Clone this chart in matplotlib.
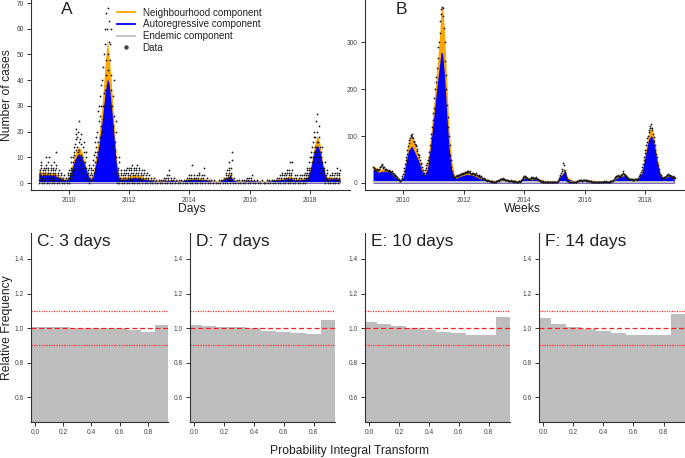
import numpy as np
import matplotlib
matplotlib.use("Agg")
import matplotlib.pyplot as plt
from matplotlib.lines import Line2D

plt.rcParams['font.family'] = ['Liberation Sans', 'DejaVu Sans']

# ---------------- Panel A : daily model fit ----------------
A_t = [2009.00, 2009.10, 2009.30, 2009.50, 2009.70, 2009.85, 2009.95,
       2010.05, 2010.15, 2010.25, 2010.33, 2010.42, 2010.50, 2010.60, 2010.70, 2010.80, 2010.90,
       2011.00, 2011.10, 2011.20, 2011.27, 2011.33, 2011.40, 2011.47, 2011.55, 2011.62, 2011.70, 2011.90,
       2012.10, 2012.30, 2012.50, 2012.70, 2012.90,
       2013.20, 2013.40, 2013.70,
       2014.00, 2014.10, 2014.30, 2014.50, 2014.70,
       2015.00, 2015.25, 2015.35, 2015.45, 2015.60,
       2016.00, 2016.50,
       2017.00, 2017.20, 2017.35, 2017.50, 2017.80, 2017.95,
       2018.05, 2018.15, 2018.25, 2018.33, 2018.42, 2018.52, 2018.62, 2018.80, 2019.00]
A_ar_top = [4.0, 3.0, 3.2, 3.0, 2.0, 1.2, 1.0,
            3.5, 7.5, 10.5, 11.5, 10.0, 8.0, 4.0, 1.2, 2.5, 8.0,
            15.0, 24.0, 35.0, 40.5, 39.0, 31.0, 22.0, 10.0, 3.0, 1.5, 1.5,
            2.0, 2.0, 1.5, 1.0, 0.7,
            0.8, 0.9, 0.7,
            1.2, 1.5, 1.3, 1.2, 0.7,
            0.6, 2.0, 3.0, 1.2, 0.6,
            0.9, 0.6,
            1.2, 1.6, 1.8, 1.2, 1.3, 2.5,
            7.0, 12.5, 14.7, 12.5, 7.0, 2.5, 1.5, 1.7, 1.6]
A_ne_top = [5.5, 4.2, 4.3, 4.0, 2.6, 1.6, 1.4,
            4.5, 9.5, 13.0, 14.0, 12.5, 9.5, 5.0, 1.8, 3.5, 11.0,
            19.0, 31.0, 46.0, 56.0, 50.0, 40.0, 28.0, 14.0, 4.5, 2.3, 2.5,
            3.0, 3.2, 2.2, 1.4, 1.0,
            1.1, 1.2, 0.9,
            1.6, 2.0, 1.7, 1.6, 0.9,
            0.8, 2.6, 3.8, 1.6, 0.8,
            1.1, 0.8,
            1.6, 2.2, 2.8, 1.7, 1.8, 3.2,
            8.5, 15.0, 18.5, 15.5, 8.5, 3.2, 2.2, 2.3, 2.2]
A_endemic = 0.4

# daily counts observed in each month (Jan 2009 ... Dec 2018)
A_obs = [
    [0,1,2,3,4,5,6,7,8], [0,1,2,3,4,5,6], [0,1,2,3,4,5,6,7,10], [0,1,2,3,4,5,6,8,10],
    [0,1,2,3,4,5,6,7], [0,1,2,3,4,5,6,8], [0,1,2,3,4,5,6,7,12], [0,1,2,3,4,5],
    [0,1,2,3,4], [0,1,2,3], [0,1,2], [0,1,2,3,4,5],
    # 2010
    [0,1,2,3,4,5,6,8,10], [2,3,4,5,6,8,10,12,14], [5,11,7,15,9,19,13,17,21], [6,14,8,18,10,20,12,24,16],
    [5,13,7,17,9,19,11,15], [4,10,6,14,8,16,12], [2,8,4,10,6,12], [1,2,3,4,5,6,7],
    [0,1,2,3,4,5,6], [1,3,5,7,9,11], [4,12,6,16,8,18,10,14], [8,20,12,28,16,30,24],
    # 2011
    [14,26,18,34,22,38,30], [20,40,25,45,30,50,35], [30,54,36,60,42,66,48], [38,60,44,68,50,63,55],
    [25,48,30,54,36,60,42], [14,30,18,34,22,40,26], [4,13,7,16,10,24,20], [0,1,2,3,4,5,6,8,10],
    [0,1,2,3,4,5], [0,1,2,3,4,5], [0,1,2,3,4,5,6], [0,1,2,3,4,5,6],
    # 2012
    [0,1,2,3,4,5,6,7], [0,1,2,3,4,5,6], [0,1,2,3,4,5,6,7], [0,1,2,3,4,5,6],
    [0,1,2,3,4,5], [0,1,2,3,4,5], [0,1,2,3,4], [0,1,2,3],
    [0,1,2], [0,1,2], [0,1], [0,1],
    # 2013
    [0,1], [0,1,2], [0,1,2,3], [0,1,2,3,5],
    [0,1,2], [0,1,2], [0,1], [0,1],
    [0,1], [0,1], [0,1,2], [0,1,2,3],
    # 2014
    [0,1,2,3,7], [0,1,2,3], [0,1,2,3], [0,1,2,3,4],
    [0,1,2,3], [0,1,2,3,6], [0,1,2], [0,1],
    [0,1], [0,1], [0], [0,1],
    # 2015
    [0,1], [0,1,2], [0,1,2,3,4,5], [0,1,2,3,4,5,6,8],
    [0,1,2,3,4,6,9,12], [0,1,2], [0,1], [0,1],
    [0,1], [0,1], [0,1,2], [0,1,2],
    # 2016
    [0,1,2,3], [0,1], [0,1], [0],
    [0,1], [0], [0,1], [0,1],
    [0,1], [0,1], [0,1,2], [0,1,2,3],
    # 2017
    [0,1,2,3,4], [0,1,2,3,4], [0,1,2,3,4,5], [0,1,2,3,4,5,8],
    [0,1,2,3,4,5,8], [0,1,2,3], [0,1,2,3], [0,1,2,3],
    [0,1,2,3], [0,1,2,3,4], [0,1,2,3,4,5,6], [1,2,3,4,5,6,8,10],
    # 2018
    [4,10,6,12,8,14], [8,16,10,18,12,20,14], [10,18,12,24,14,27,16,20], [8,16,10,18,12,22,14],
    [4,10,6,12,8,14], [1,2,3,4,5,6,8], [0,1,2,3,4,5], [0,1,2,3],
    [0,1,2,3,4], [0,1,2,3,4], [0,1,2,3,4,6], [0,1,2,3,4,5],
]

# ---------------- Panel B : weekly model fit ----------------
B_t = [2009.00, 2009.17, 2009.34, 2009.56, 2009.72, 2009.89, 2010.00,
       2010.06, 2010.17, 2010.28, 2010.35, 2010.50, 2010.61, 2010.70, 2010.80, 2010.90,
       2011.02, 2011.10, 2011.19, 2011.25, 2011.30, 2011.36, 2011.43, 2011.51, 2011.60, 2011.71, 2011.88,
       2012.10, 2012.32, 2012.54, 2012.76,
       2013.09, 2013.31, 2013.53, 2013.86,
       2014.05, 2014.25, 2014.41, 2014.64,
       2015.08, 2015.28, 2015.35, 2015.43, 2015.63,
       2016.02, 2016.40, 2016.95,
       2017.12, 2017.34, 2017.50, 2017.73, 2017.89,
       2018.00, 2018.11, 2018.20, 2018.28, 2018.39, 2018.50, 2018.61, 2018.77, 2018.89, 2018.96]
B_ar_top = [30, 23, 25.5, 23, 12.8, 5, 12,
            34, 69.5, 78.7, 69.5, 48, 27, 16, 30, 76.6,
            147.5, 197, 247, 279, 275, 232.6, 154.6, 76.6, 27, 9, 14,
            18.4, 16, 9, 5,
            4.5, 6.5, 5, 4.5,
            11.3, 6.5, 9, 4.5,
            4.3, 20, 27, 9, 4.3,
            6, 4.5, 4.5,
            12.8, 16, 7, 5.7, 20,
            55, 91, 101.4, 91, 48, 16, 9, 14, 12.8, 12]
B_ne_top = [37.6, 30, 30, 27, 16, 6.5, 15,
            41, 87, 101, 87, 59, 34, 20, 48, 98,
            176, 233, 303, 367, 376, 325, 225, 119, 48, 12.8, 18.4,
            23, 20, 12.8, 6.5,
            6, 9, 6.5, 6,
            14, 9, 11.3, 6,
            5.5, 23, 30.5, 12.8, 5.5,
            7.5, 5.5, 5.5,
            15, 21, 9, 7.8, 23,
            66, 105, 120.6, 105, 59, 20, 11.3, 16, 15, 14]
B_endemic = 4.0

# weekly counts, four per month (Jan 2009 ... Dec 2018)
B_obs = [
    [35,32,30,28], [25,28,30,27], [28,30,33,35], [36,40,38,33], [32,35,30,28], [30,27,28,26],
    [26,28,24,25], [24,22,25,21], [20,18,16,15], [14,12,10,9], [8,6,5,4], [6,10,15,20],
    # 2010
    [25,32,40,48], [55,62,70,78], [85,92,95,100], [102,98,104,95], [90,88,82,80], [78,72,68,62],
    [60,55,48,42], [40,34,28,22], [18,22,28,32], [38,42,48,50], [55,65,80,95], [105,120,135,150],
    # 2011
    [160,180,200,215], [225,245,265,290], [300,320,345,360], [370,375,372,355], [330,300,260,230], [200,165,140,120],
    [100,80,60,48], [35,25,18,14], [12,13,11,14], [15,16,14,17], [18,17,20,19], [20,22,19,21],
    # 2012
    [22,24,21,23], [25,22,24,26], [23,25,22,20], [21,19,22,20], [20,18,19,21], [17,16,15,18],
    [14,13,12,14], [11,10,9,10], [8,7,8,6], [6,5,6,4], [5,4,3,4], [3,4,3,2],
    # 2013
    [3,2,4,3], [4,5,6,5], [7,8,9,8], [9,8,10,9], [8,7,6,7], [6,5,6,5],
    [5,4,5,6], [4,5,3,4], [3,4,3,3], [3,2,3,4], [4,3,5,6], [8,10,12,14],
    # 2014
    [15,13,12,11], [10,9,8,9], [8,9,10,12], [11,12,10,9], [10,11,12,10], [9,8,7,6],
    [5,4,4,3], [3,4,2,3], [3,2,3,2], [2,3,2,2], [2,2,3,2], [2,3,2,3],
    # 2015
    [2,3,2,2], [3,4,6,10], [14,18,22,26], [30,42,38,28], [24,18,12,8], [5,4,3,3],
    [2,3,2,2], [2,2,3,2], [3,2,3,4], [4,5,4,6], [6,7,6,5], [5,6,7,6],
    # 2016
    [7,6,5,6], [5,4,5,4], [4,3,4,3], [3,2,3,3], [2,3,2,3], [3,2,2,3],
    [2,3,3,2], [3,2,3,4], [3,4,3,2], [2,3,3,4], [3,4,5,4], [5,6,8,10],
    # 2017
    [12,14,13,15], [14,16,15,13], [14,17,18,20], [22,25,20,18], [16,14,12,11], [10,9,8,9],
    [8,9,8,7], [7,8,7,8], [9,8,7,8], [9,11,14,18], [20,24,28,35], [40,48,56,64],
    # 2018
    [70,80,88,96], [100,108,112,118], [122,126,118,112], [105,98,90,80], [70,62,55,45], [38,30,24,20],
    [16,13,12,11], [10,11,12,13], [14,15,16,18], [20,17,15,16], [14,15,13,12], [14,13,12,11],
]

# ---------------- Panels C-F : PIT histograms ----------------
pit_titles = ["C: 3 days", "D: 7 days", "E: 10 days", "F: 14 days"]
pit_mid = [0.0, 0.1, 0.2, 0.3, 0.4, 0.5, 0.6, 0.7, 0.8, 0.9]
pit_C = [1.007, 1.007, 1.004, 1.003, 1.002, 1.001, 0.999, 0.989, 0.979, 1.019]
pit_D = [1.019, 1.015, 1.008, 1.006, 1.000, 0.985, 0.979, 0.971, 0.965, 1.044]
pit_E = [1.037, 1.023, 1.013, 1.000, 0.988, 0.979, 0.969, 0.962, 0.958, 1.065]
pit_F = [1.056, 1.023, 1.008, 0.992, 0.981, 0.969, 0.958, 0.958, 0.963, 1.080]
pit_ref = 1.0
pit_band = [0.9, 1.1]

# ---------------- styling ----------------
W, H = 685, 458
C_ORANGE = '#FFA500'
C_BLUE = '#0000FF'
C_GREY = '#BEBEBE'
C_DOT = '#1a1a1a'
C_TXT = '#222222'
TICK_FS = 4.8

fig = plt.figure(figsize=(W / 100, H / 100), dpi=100)


def px_axes(left, top, right, bottom):
    return fig.add_axes([left / W, 1 - bottom / H, (right - left) / W, (bottom - top) / H])


def style(ax):
    for s in ('top', 'right'):
        ax.spines[s].set_visible(False)
    for s in ('left', 'bottom'):
        ax.spines[s].set_linewidth(0.8)
        ax.spines[s].set_color('#333333')
    ax.tick_params(direction='out', length=3, width=0.7, colors='#333333',
                   labelsize=TICK_FS, labelcolor='#444444', pad=2.2)


def month_positions(obs):
    xs, ys = [], []
    for m, vals in enumerate(obs):
        n = len(vals)
        for k, v in enumerate(vals):
            xs.append(2009 + m / 12 + (k + 0.5) / (n * 12))
            ys.append(v)
    return xs, ys


def ts_panel(ax, t, ar, ne, endemic, obs):
    t = np.asarray(t)
    ax.fill_between(t, 0, ne, color=C_ORANGE, lw=0)
    ax.fill_between(t, 0, ar, color=C_BLUE, lw=0)
    ax.fill_between(t, 0, endemic, color=C_GREY, lw=0)
    xs, ys = month_positions(obs)
    ax.scatter(xs, ys, s=1.7, color=C_DOT, lw=0, zorder=3)
    ax.set_xticks([2010, 2012, 2014, 2016, 2018])
    style(ax)


# Panel A
axA = px_axes(31, 0, 350, 190)
ts_panel(axA, A_t, A_ar_top, A_ne_top, A_endemic, A_obs)
axA.set_xlim(2008.739, 2019.33)
axA.set_ylim(-2.72, 71.2)
axA.set_yticks(range(0, 71, 10))
fig.text(66.5 / W, 1 - 9 / H, 'A', fontsize=12.5, color=C_TXT, ha='center', va='center')

handles = [Line2D([], [], color=C_ORANGE, lw=1.3),
           Line2D([], [], color=C_BLUE, lw=1.3),
           Line2D([], [], color=C_GREY, lw=1.3),
           Line2D([], [], color='#444444', marker='o', markersize=2.2, lw=0)]
labels = ['Neighbourhood component', 'Autoregressive component', 'Endemic component', 'Data']
leg = axA.legend(handles, labels, loc='upper left', bbox_to_anchor=(117 / W, 1 - 7.5 / H),
                 bbox_transform=fig.transFigure, frameon=False, fontsize=7.1,
                 handlelength=1.8, handletextpad=0.8, labelspacing=0.18,
                 borderpad=0, borderaxespad=0)
for txt in leg.get_texts():
    txt.set_color(C_TXT)

# Panel B
axB = px_axes(365, 0, 685, 190)
ts_panel(axB, B_t, B_ar_top, B_ne_top, B_endemic, B_obs)
axB.set_xlim(2008.732, 2019.32)
axB.set_ylim(-14.9, 389.4)
axB.set_yticks([0, 100, 200, 300])
fig.text(401 / W, 1 - 9 / H, 'B', fontsize=12.5, color=C_TXT, ha='center', va='center')

fig.text(7.5 / W, 1 - 95 / H, 'Number of cases', rotation=90, fontsize=8.7,
         color=C_TXT, ha='center', va='center')
fig.text(192 / W, 1 - 212.5 / H, 'Days', fontsize=8.7, color=C_TXT, ha='center', va='baseline')
fig.text(522 / W, 1 - 212.5 / H, 'Weeks', fontsize=8.7, color=C_TXT, ha='center', va='baseline')

# PIT panels
pit_vals = [pit_C, pit_D, pit_E, pit_F]
pit_px = [(31, 168), (190, 335), (365, 510), (539, 685)]
for title, vals, (l, r) in zip(pit_titles, pit_vals, pit_px):
    ax = px_axes(l, 233, r, 422)
    ax.bar(pit_mid, vals, width=0.1, color=C_GREY, lw=0, align='center')
    ax.axhline(pit_ref, color='#FF2020', lw=0.9, ls=(0, (4, 2.2)))
    for b in pit_band:
        ax.axhline(b, color='#FF2020', lw=0.9, ls=(0, (0.9, 1.1)))
    ax.set_xlim(-0.027, 0.942)
    ax.set_ylim(0.457, 1.55)
    ax.set_yticks([0.6, 0.8, 1.0, 1.2, 1.4])
    ax.set_xticks([0.0, 0.2, 0.4, 0.6, 0.8])
    ax.set_xticklabels(['0.0', '0.2', '0.4', '0.6', '0.8'])
    ax.set_yticklabels(['0.6', '0.8', '1.0', '1.2', '1.4'])
    style(ax)
    ax.text(6 / (r - l), 1 - 8.5 / 189, title, transform=ax.transAxes, fontsize=12.5,
            color=C_TXT, ha='left', va='center')

fig.text(7.5 / W, 1 - 327.5 / H, 'Relative Frequency', rotation=90, fontsize=8.7,
         color=C_TXT, ha='center', va='center')
fig.text(349.5 / W, 1 - 451 / H, 'Probability Integral Transform', fontsize=8.7,
         color=C_TXT, ha='center', va='center')

fig.savefig('out.png', dpi=100)
